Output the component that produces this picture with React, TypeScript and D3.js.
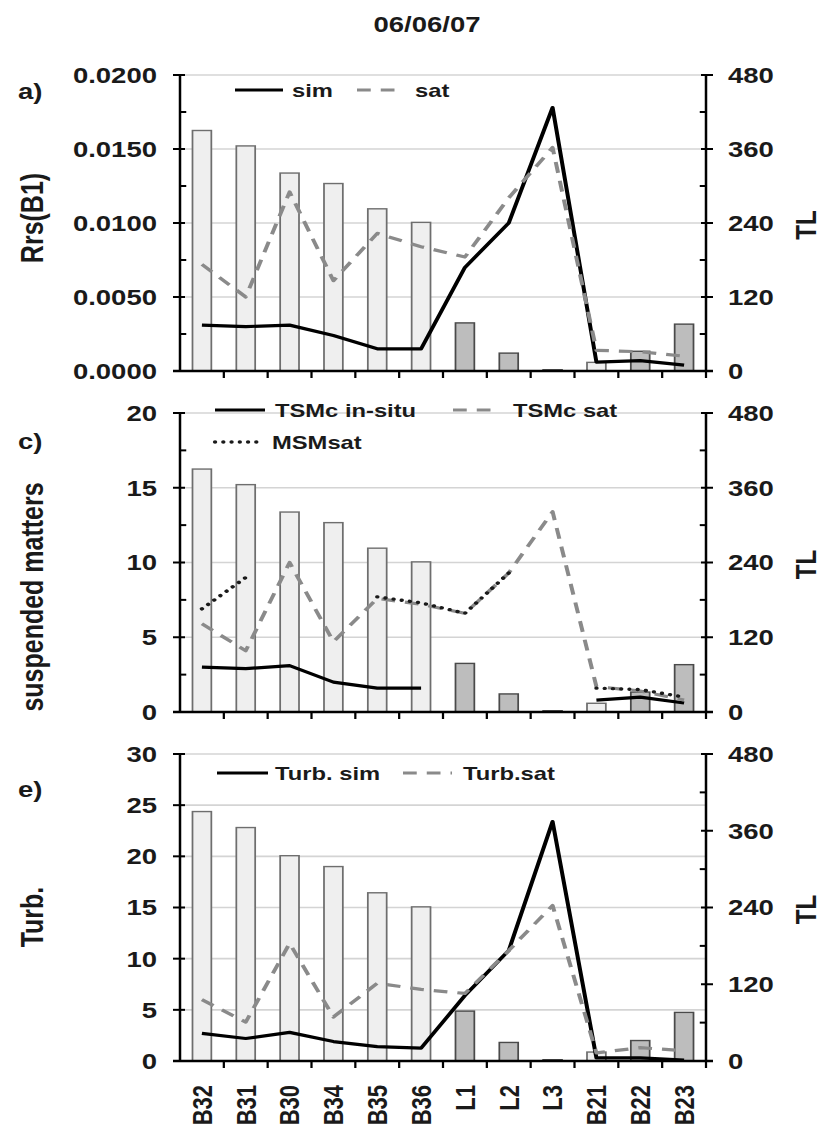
import React from 'react';
import * as d3 from 'd3';

// stations along the transect
const categories = ['B32', 'B31', 'B30', 'B34', 'B35', 'B36', 'L1', 'L2', 'L3', 'B21', 'B22', 'B23'];
// TL bars (right axis), same in every panel
const tlValues = [390, 365, 321, 304, 263, 241, 78, 29, 2, 14, 32, 76];
const barShade = ['light', 'light', 'light', 'light', 'light', 'light', 'dark', 'dark', 'dark', 'light', 'dark', 'dark'];

// a) Rrs(B1)
const rrsSim = [0.0031, 0.003, 0.0031, 0.0024, 0.0015, 0.0015, 0.007, 0.01, 0.0178, 0.0006, 0.0007, 0.0004];
const rrsSat = [0.0072, 0.005, 0.0121, 0.0061, 0.0093, 0.0084, 0.0077, 0.0117, 0.0151, 0.0014, 0.0013, 0.001];

// c) suspended matters
const tsmInSitu = [3.0, 2.9, 3.1, 2.0, 1.6, 1.6, null, null, null, 0.8, 1.0, 0.6];
const tsmSat = [5.9, 4.1, 10.0, 4.7, 7.6, 7.2, 6.6, 9.3, 13.4, 1.7, 1.4, 0.8];
const msmSat = [6.9, 9.0, null, null, 7.7, 7.3, 6.6, 9.3, null, 1.6, 1.5, 1.0];

// e) Turb.
const turbSim = [2.7, 2.2, 2.8, 1.9, 1.4, 1.25, 6.4, 10.8, 23.4, 0.3, 0.3, 0.1];
const turbSat = [6.0, 3.8, 11.5, 4.3, 7.6, 7.0, 6.6, 10.8, 15.2, 0.8, 1.3, 1.0];

const SX = 1.25; // the figure is stretched horizontally
const W = 825 / SX;
const H = 1145;
const plotLeft = 144;
const plotRight = 564.8;
const font = "'Liberation Sans', Arial, Helvetica, sans-serif";

const styles = {
  solid: { stroke: '#000', strokeWidth: 3.2, dash: undefined, cap: 'butt' },
  dashed: { stroke: '#8a8a8a', strokeWidth: 3.2, dash: '11 8', cap: 'butt' },
  dotted: { stroke: '#1a1a1a', strokeWidth: 3.4, dash: '0.1 6.5', cap: 'round' },
};

const panels = [
  {
    label: 'a)', labelY: 99, title: 'Rrs(B1)', titleY: 218, top: 75, bottom: 371,
    max: 0.02, major: 0.005, minor: true, fmt: d3.format('.4f'),
    series: [
      { name: 'sim', values: rrsSim, style: 'solid' },
      { name: 'sat', values: rrsSat, style: 'dashed' },
    ],
    legend: [
      { name: 'sim', style: 'solid', x0: 188, x1: 226.4, tx: 233.6, y: 90 },
      { name: 'sat', style: 'dashed', x0: 285.6, x1: 321.6, tx: 332, y: 90 },
    ],
  },
  {
    label: 'c)', labelY: 449, title: 'suspended matters', titleY: 597, top: 413, bottom: 712,
    max: 20, major: 5, minor: true, fmt: d3.format('d'),
    series: [
      { name: 'TSMc in-situ', values: tsmInSitu, style: 'solid' },
      { name: 'TSMc sat', values: tsmSat, style: 'dashed' },
      { name: 'MSMsat', values: msmSat, style: 'dotted' },
    ],
    legend: [
      { name: 'TSMc in-situ', style: 'solid', x0: 172, x1: 212, tx: 220, y: 410 },
      { name: 'TSMc sat', style: 'dashed', x0: 362.4, x1: 400, tx: 410.4, y: 410 },
      { name: 'MSMsat', style: 'dotted', x0: 172, x1: 209.6, tx: 217.6, y: 442 },
    ],
  },
  {
    label: 'e)', labelY: 797, title: 'Turb.', titleY: 917, top: 754, bottom: 1061,
    max: 30, major: 5, minor: false, fmt: d3.format('d'),
    series: [
      { name: 'Turb. sim', values: turbSim, style: 'solid' },
      { name: 'Turb.sat', values: turbSat, style: 'dashed' },
    ],
    legend: [
      { name: 'Turb. sim', style: 'solid', x0: 173.6, x1: 214.4, tx: 220, y: 773 },
      { name: 'Turb.sat', style: 'dashed', x0: 322.4, x1: 361.6, tx: 370.4, y: 773 },
    ],
  },
];

const x = d3.scaleBand().domain(categories).range([plotLeft, plotRight]).paddingInner(0.57).paddingOuter(0.285);
const cx = (c) => (x(c) as number) + x.bandwidth() / 2;

function Panel({ p, last }) {
  const yL = d3.scaleLinear().domain([0, p.max]).range([p.bottom, p.top]);
  const yR = d3.scaleLinear().domain([0, 480]).range([p.bottom, p.top]);
  const majors = d3.range(0, p.max + p.major / 2, p.major);
  const minors = p.minor ? d3.range(p.major / 2, p.max, p.major) : [];
  const rMajors = d3.range(0, 481, 120);
  const rMinors = d3.range(60, 480, 120);
  const step = x.step();
  const bounds = d3.range(1, categories.length + 1).map((i) => plotLeft + i * step);

  const line = d3
    .line<number | null>()
    .defined((d) => d !== null)
    .x((_, i) => cx(categories[i]))
    .y((d) => yL(d as number));

  return (
    <g>
      {majors.slice(1).map((v) => (
        <line key={'g' + v} x1={plotLeft} x2={plotRight} y1={yL(v)} y2={yL(v)} stroke="#d4d4d4" strokeWidth={1.6} />
      ))}
      {categories.map((c, i) => (
        <rect
          key={c}
          x={x(c)}
          y={yR(tlValues[i])}
          width={x.bandwidth()}
          height={p.bottom - yR(tlValues[i])}
          fill={barShade[i] === 'light' ? '#efefef' : '#bdbdbd'}
          stroke={barShade[i] === 'light' ? '#6e6e6e' : '#4a4a4a'}
          strokeWidth={1.4}
        />
      ))}
      {p.series.map((s) => {
        const st = styles[s.style];
        return (
          <path
            key={s.name}
            d={line(s.values) || ''}
            fill="none"
            stroke={st.stroke}
            strokeWidth={st.strokeWidth}
            strokeDasharray={st.dash}
            strokeLinecap={st.cap}
            strokeLinejoin="round"
          />
        );
      })}
      {/* axes */}
      <line x1={plotLeft} x2={plotLeft} y1={p.top} y2={p.bottom} stroke="#000" strokeWidth={2} />
      <line x1={plotRight} x2={plotRight} y1={p.top} y2={p.bottom} stroke="#000" strokeWidth={2} />
      <line x1={plotLeft - 5.6} x2={plotRight + 5.6} y1={p.bottom} y2={p.bottom} stroke="#000" strokeWidth={2.4} />
      {majors.map((v) => (
        <line key={'lm' + v} x1={plotLeft - 5.6} x2={plotLeft + 4} y1={yL(v)} y2={yL(v)} stroke="#000" strokeWidth={2} />
      ))}
      {minors.map((v) => (
        <line key={'ln' + v} x1={plotLeft} x2={plotLeft + 5} y1={yL(v)} y2={yL(v)} stroke="#000" strokeWidth={2} />
      ))}
      {rMajors.map((v) => (
        <line key={'rm' + v} x1={plotRight - 4} x2={plotRight + 5.6} y1={yR(v)} y2={yR(v)} stroke="#000" strokeWidth={2} />
      ))}
      {rMinors.map((v) => (
        <line key={'rn' + v} x1={plotRight - 5} x2={plotRight} y1={yR(v)} y2={yR(v)} stroke="#000" strokeWidth={2} />
      ))}
      {bounds.map((b, i) => (
        <line key={'b' + i} x1={b} x2={b} y1={p.bottom} y2={p.bottom + 7} stroke="#000" strokeWidth={1.8} />
      ))}
      {majors.map((v) => (
        <text key={'tl' + v} x={125.6} y={yL(v)} dy="0.36em" textAnchor="end" fontSize={22} fontWeight="bold" fontFamily={font} fill="#1a1a1a">
          {p.fmt(v)}
        </text>
      ))}
      {rMajors.map((v) => (
        <text key={'tr' + v} x={582.4} y={yR(v)} dy="0.36em" fontSize={22} fontWeight="bold" fontFamily={font} fill="#1a1a1a">
          {v}
        </text>
      ))}
      <text x={14.4} y={p.labelY} fontSize={22} fontWeight="bold" fontFamily={font} fill="#1a1a1a">
        {p.label}
      </text>
      <text transform={`translate(25.6,${p.titleY}) rotate(-90)`} textAnchor="middle" dy="0.36em" fontSize={25} fontWeight="bold" fontFamily={font} fill="#1a1a1a">
        {p.title}
      </text>
      <text transform={`translate(644,${(p.top + p.bottom) / 2 + 2}) rotate(-90)`} textAnchor="middle" dy="0.36em" fontSize={24} fontWeight="bold" fontFamily={font} fill="#1a1a1a">
        TL
      </text>
      {p.legend.map((l) => {
        const st = styles[l.style];
        return (
          <g key={'lg' + l.name}>
            <line x1={l.x0} x2={l.x1} y1={l.y} y2={l.y} stroke={st.stroke} strokeWidth={st.strokeWidth} strokeDasharray={st.dash} strokeLinecap={st.cap} />
            <text x={l.tx} y={l.y} dy="0.36em" fontSize={19} fontWeight="bold" fontFamily={font} fill="#1a1a1a">
              {l.name}
            </text>
          </g>
        );
      })}
      {last &&
        categories.map((c) => (
          <text key={'x' + c} transform={`translate(${cx(c)},${p.bottom + 24}) rotate(-90)`} textAnchor="end" dy="0.36em" fontSize={22} fontWeight="bold" fontFamily={font} fill="#1a1a1a">
            {c}
          </text>
        ))}
    </g>
  );
}

export default function App() {
  return (
    <svg width={825} height={H} style={{ position: 'absolute', left: 0, top: 0, background: '#fff' }}>
      <g transform={`scale(${SX},1)`}>
        <rect x={0} y={0} width={W} height={H} fill="#fff" />
        <text x={341.6} y={32} textAnchor="middle" fontSize={22} fontWeight="bold" fontFamily={font} fill="#1a1a1a">
          06/06/07
        </text>
        {panels.map((p, i) => (
          <Panel key={p.label} p={p} last={i === panels.length - 1} />
        ))}
      </g>
    </svg>
  );
}
